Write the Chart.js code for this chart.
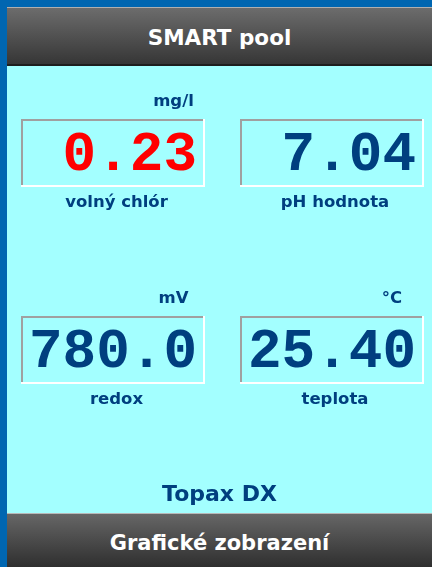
<!DOCTYPE html>
<html>
<head>
<meta charset="utf-8">
<script src="https://cdn.jsdelivr.net/npm/chart.js@4.4.1/dist/chart.umd.min.js"></script>
<style>
  html, body { margin: 0; padding: 0; }
  body { width: 432px; height: 567px; background: #0066b1; position: relative; overflow: hidden; font-family: "DejaVu Sans", sans-serif; }
  #panel { position: absolute; left: 7px; top: 7px; width: 425px; height: 560px; background: #a3ffff; }
  .bar { position: absolute; left: 0; width: 425px; color: #fff; font-weight: bold; text-align: center; }
  #head { top: 0; height: 56px; border-top: 1px solid #b0b0b0; border-bottom: 2px solid #1e1e1e; background: linear-gradient(#6c6c6c, #363636); font-size: 21.5px; line-height: 60px; }
  #foot { top: 506px; height: 53px; border-top: 1px solid #b8b8b8; background: linear-gradient(#666, #2f2f2f); font-size: 21px; line-height: 58px; }
  #model { position: absolute; left: 0; top: 474px; width: 425px; text-align: center; color: #003f7f; font-weight: bold; font-size: 22px; }
  #chart { position: absolute; left: 0; top: 59px; }
</style>
</head>
<body>
<div id="panel">
  <div class="bar" id="head">SMART pool</div>
  <canvas id="chart" width="425" height="447"></canvas>
  <div id="model">Topax DX</div>
  <div class="bar" id="foot">Grafické zobrazení</div>
</div>
<script>
// readouts
var labels = ["volný chlór", "pH hodnota", "redox", "teplota"];
var units = ["mg/l", "", "mV", "°C"];
var values = [0.23, 7.04, 780.0, 25.40];
var decimals = [2, 2, 1, 2];
var alarm = [true, false, false, false];

// two readouts per row
var points = values.map(function (v, i) {
    return { x: i % 2, y: 1 - Math.floor(i / 2) };
});

var readoutPlugin = {
    id: "readouts",
    afterDatasetsDraw: function (chart) {
        var ctx = chart.ctx;
        var meta = chart.getDatasetMeta(0);
        meta.data.forEach(function (pt, i) {
            var w = 184, h = 68;
            var x0 = Math.round(pt.x - w / 2), y0 = Math.round(pt.y - h / 2);
            ctx.save();
            // inset frame
            ctx.fillStyle = "#a0a0a0";
            ctx.fillRect(x0, y0, w, 2);
            ctx.fillRect(x0, y0, 2, h);
            ctx.fillStyle = "#ffffff";
            ctx.fillRect(x0, y0 + h - 2, w, 2);
            ctx.fillRect(x0 + w - 2, y0, 2, h);

            ctx.fillStyle = alarm[i] ? "#ff0000" : "#003f7f";
            ctx.font = 'bold 56px "Liberation Mono", "Courier New", monospace';
            ctx.textAlign = "right";
            ctx.textBaseline = "alphabetic";
            ctx.fillText(values[i].toFixed(decimals[i]), x0 + w - 8, y0 + 51);

            ctx.fillStyle = "#003f7f";
            ctx.font = 'bold 16.5px "DejaVu Sans", sans-serif';
            ctx.textAlign = "center";
            if (units[i]) ctx.fillText(units[i], pt.x + 60, y0 - 13);
            ctx.fillText(labels[i], pt.x + 3, y0 + h + 20);
            ctx.restore();
        });
    }
};

var chart = new Chart(document.getElementById("chart").getContext("2d"), {
    type: "scatter",
    data: {
        datasets: [{
            data: points,
            pointRadius: 0,
            pointHoverRadius: 0
        }]
    },
    options: {
        responsive: false,
        animation: false,
        layout: { padding: 0 },
        plugins: { legend: { display: false }, tooltip: { enabled: false } },
        scales: {
            x: { type: "linear", display: false, min: -0.4874, max: 1.4577 },
            y: { type: "linear", display: false, min: -0.8274, max: 1.4416 }
        }
    },
    plugins: [readoutPlugin]
});
</script>
</body>
</html>
